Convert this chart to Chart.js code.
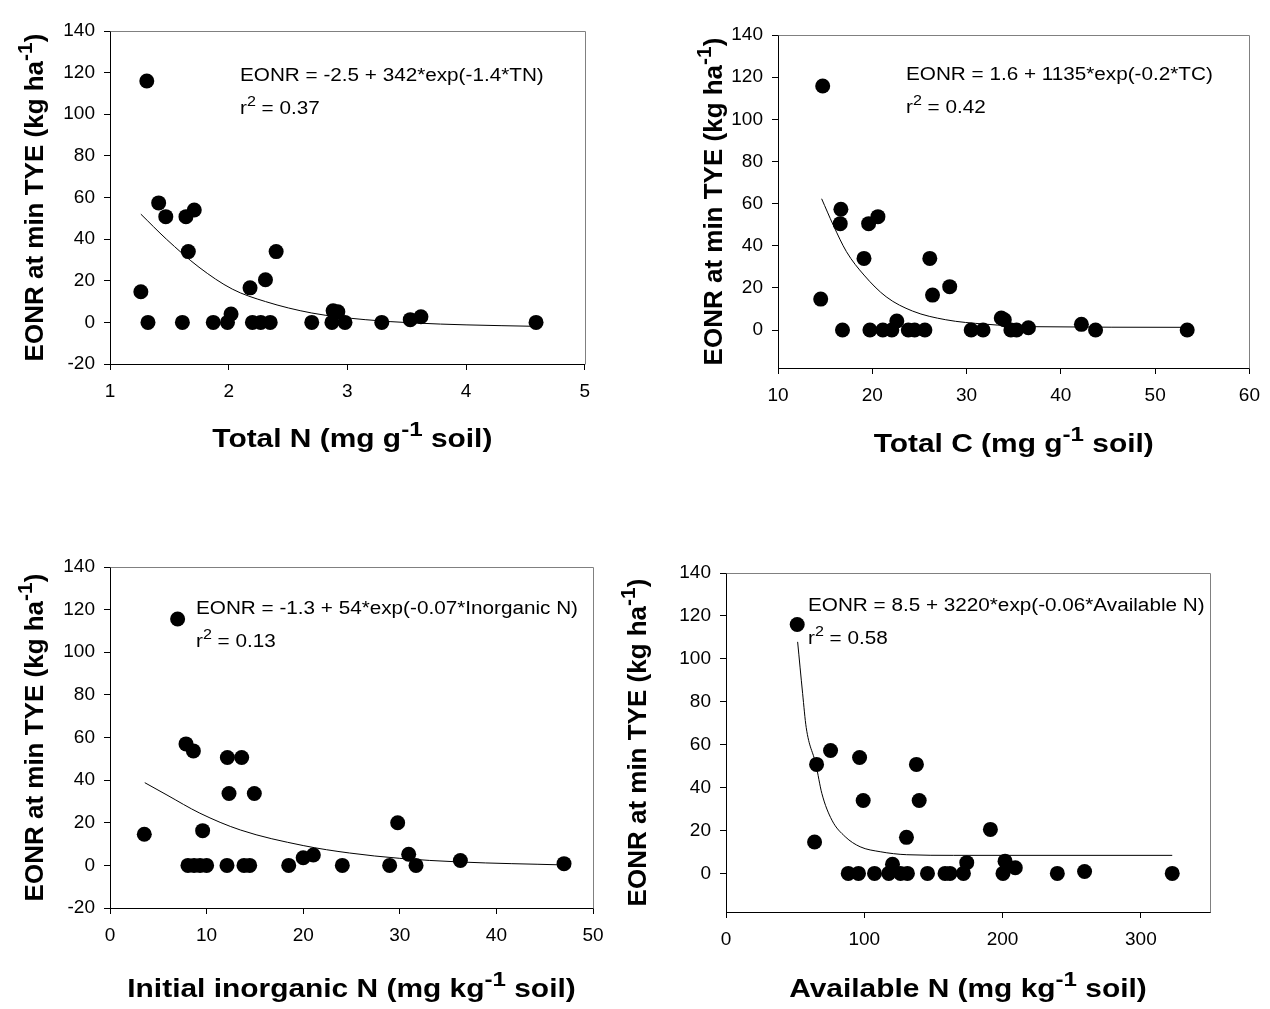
<!DOCTYPE html>
<html>
<head>
<meta charset="utf-8">
<script src="https://cdn.jsdelivr.net/npm/chart.js@4.4.1/dist/chart.umd.min.js"></script>
<style>
  body { margin: 0; background: #fff; }
  .panel { position: absolute; }
</style>
</head>
<body>
<div class="panel" style="left:0;top:0"><canvas id="tn" width="600" height="480"></canvas></div>
<div class="panel" style="left:600px;top:0"><canvas id="tc" width="670" height="480"></canvas></div>
<div class="panel" style="left:0;top:505px"><canvas id="inorg" width="635" height="504"></canvas></div>
<div class="panel" style="left:600px;top:505px"><canvas id="avail" width="670" height="504"></canvas></div>
<script>
const FONT = "'Liberation Sans', Arial, Helvetica, sans-serif";

// y axis (EONR at min TYE), shared by all panels
const eonrTicks = [-20, 0, 20, 40, 60, 80, 100, 120, 140];
const eonrTicksPos = [0, 20, 40, 60, 80, 100, 120, 140];
const yTitle = ['EONR at min TYE (kg ha', ['-1'], ')'];

// Total N
const tnX = [1.31, 1.26, 1.32, 1.41, 1.47, 1.61, 1.64, 1.71, 1.66, 1.87, 1.99, 2.02, 2.18, 2.20, 2.27, 2.31, 2.35, 2.40, 2.70, 2.87, 2.88, 2.92, 2.98, 3.29, 3.53, 3.62, 4.59];
const tnY = [116, 14.7, 0, 57.4, 50.8, 0, 50.8, 54, 34, 0, 0, 4, 16.6, 0, 0, 20.5, 0, 34, 0, 0, 5.6, 5.1, 0, 0, 1.3, 2.7, 0];
const tnFitX = [1.26, 1.475, 1.75, 2.03, 2.31, 2.70, 3.15, 3.57, 4.0, 4.59];
const tnFitY = [52, 40, 26.5, 16, 10, 4.5, 1.3, -0.3, -1.2, -1.9];
const tnTicks = [1, 2, 3, 4, 5];

// Total C
const tcX = [14.74, 14.53, 16.67, 16.60, 16.84, 19.12, 19.61, 19.75, 20.6, 21.12, 22.07, 22.6, 23.82, 24.49, 25.58, 26.1, 26.39, 28.21, 30.49, 31.75, 33.68, 34.0, 34.7, 35.3, 36.56, 42.18, 43.68, 53.4];
const tcY = [115.8, 14.7, 57.3, 50.5, 0, 34, 50.5, 0, 53.8, 0, 0, 4.3, 0, 0, 0, 34, 16.6, 20.6, 0, 0, 5.7, 4.9, 0, 0, 1.1, 2.7, 0, 0];
const tcFitX = [14.63, 15.86, 17.26, 19.12, 21.47, 24.28, 27.79, 32.0, 37.26, 53.4];
const tcFitY = [62.3, 49.8, 37.2, 26.1, 15.8, 9.0, 4.9, 2.8, 1.6, 1.3];
const tcTicks = [10, 20, 30, 40, 50, 60];

// Initial inorganic N
const inX = [7.0, 3.55, 7.87, 8.63, 8.07, 8.7, 9.32, 10.0, 9.59, 12.15, 13.63, 12.32, 14.94, 12.11, 13.87, 14.46, 18.5, 20.0, 21.05, 24.05, 28.95, 29.78, 30.92, 31.68, 36.27, 47.0];
const inY = [115.6, 14.6, 57, 53.7, 0, 0, 0, 0, 16.3, 50.6, 50.6, 33.7, 33.7, 0, 0, 0, 0, 3.6, 4.9, 0, 0, 20, 5.2, 0, 2.3, 0.8];
const inFitX = [3.6, 5.9, 9.3, 13.5, 20, 24.8, 30, 36.2, 47];
const inFitY = [38.8, 33, 24.5, 16.6, 9.3, 5.8, 3.3, 1.6, 0.2];
const inTicks = [0, 10, 20, 30, 40, 50];

// Available N
const avX = [51.5, 64.05, 65.5, 75.6, 96.6, 99.2, 137.7, 139.7, 130.5, 191.2, 88.4, 95.8, 107.4, 117.7, 120.4, 126.2, 131.2, 145.7, 158.4, 162, 171.7, 174.1, 200.3, 201.8, 209.2, 239.6, 259.3, 322.7];
const avY = [116, 14.6, 50.8, 57.3, 54, 34, 50.8, 34, 16.8, 20.5, 0, 0, 0, 0, 4.2, 0, 0, 0, 0, 0, 0, 5, 0, 5.7, 2.6, 0, 0.9, 0];
const avFitX = [51.8, 55.4, 58, 65.0, 69.3, 76.6, 86.2, 97.0, 111.5, 130.7, 164.5, 322.7];
const avFitY = [107.9, 83.9, 68, 50.8, 37.3, 24.8, 17.1, 12.4, 10.1, 8.7, 8.4, 8.4];
const avTicks = [0, 100, 200, 300];

function pts(xs, ys) {
  return xs.map((x, i) => ({ x: x, y: ys[i] }));
}

// text with superscripts: plain strings, or one-element arrays for superscripts.
// the original figure is a bit stretched sideways, hence the hs factor
function drawRich(ctx, parts, x, y, weight, size, align, hs, rotated) {
  const main = weight + ' ' + size + 'px ' + FONT;
  const sup = weight + ' ' + Math.round(size * 0.8) + 'px ' + FONT;
  let total = 0;
  parts.forEach(p => {
    ctx.font = Array.isArray(p) ? sup : main;
    total += ctx.measureText(Array.isArray(p) ? p[0] : p).width;
  });
  ctx.save();
  ctx.translate(x, y);
  if (rotated) {
    ctx.rotate(-Math.PI / 2);
    ctx.scale(1, hs);
  } else {
    ctx.scale(hs, 1);
  }
  let cx = align === 'center' ? -total / 2 : 0;
  ctx.textAlign = 'left';
  ctx.textBaseline = 'alphabetic';
  parts.forEach(p => {
    if (Array.isArray(p)) {
      ctx.font = sup;
      ctx.fillText(p[0], cx, -size * 0.42);
      cx += ctx.measureText(p[0]).width;
    } else {
      ctx.font = main;
      ctx.fillText(p, cx, 0);
      cx += ctx.measureText(p).width;
    }
  });
  ctx.restore();
}

const panelText = {
  id: 'panelText',
  afterDraw(chart, args, o) {
    const ctx = chart.ctx, a = chart.chartArea;
    ctx.save();
    // gray frame on top and right
    ctx.strokeStyle = '#808080';
    ctx.lineWidth = 1;
    ctx.beginPath();
    ctx.moveTo(Math.round(a.left) + 0.5, Math.round(a.top) + 0.5);
    ctx.lineTo(Math.round(a.right) + 0.5, Math.round(a.top) + 0.5);
    ctx.lineTo(Math.round(a.right) + 0.5, Math.round(a.bottom) + 0.5);
    ctx.stroke();

    ctx.fillStyle = '#000';
    drawRich(ctx, o.xTitle, (a.left + a.right) / 2 + o.xTitleDx, a.bottom + o.xTitleDy, 'bold', 26, 'center', 1.15, false);
    drawRich(ctx, yTitle, o.yTitleX, (a.top + a.bottom) / 2, 'bold', 26, 'center', 1.0, true);
    drawRich(ctx, [o.eq], a.left + o.eqDx, a.top + o.eqDy, 'normal', 18, 'left', 1.15, false);
    drawRich(ctx, ['r', ['2'], ' = ' + o.r2], a.left + o.eqDx, a.top + o.eqDy + 33, 'normal', 18, 'left', 1.15, false);
    ctx.restore();
  }
};

function makePanel(id, c) {
  const axisCommon = {
    type: 'linear',
    grid: { drawOnChartArea: false, drawTicks: true, tickLength: 6, color: '#000' },
    border: { display: true, color: '#000', width: 1 },
  };
  new Chart(document.getElementById(id), {
    type: 'scatter',
    data: {
      datasets: [
        {
          data: pts(c.fitX, c.fitY),
          showLine: true,
          cubicInterpolationMode: 'monotone',
          borderColor: '#000',
          borderWidth: 1,
          pointRadius: 0,
          fill: false,
        },
        {
          data: pts(c.x, c.y),
          pointRadius: 7.5,
          pointBackgroundColor: '#000',
          pointBorderWidth: 0,
        },
      ],
    },
    options: {
      responsive: false,
      devicePixelRatio: 1,
      animation: false,
      layout: { padding: { top: c.padTop, right: c.padRight, left: 0, bottom: 0 } },
      plugins: { legend: { display: false }, tooltip: { enabled: false }, panelText: c.text },
      scales: {
        x: Object.assign({}, axisCommon, {
          min: c.xMin,
          max: c.xMax,
          afterBuildTicks: s => { s.ticks = c.xTicks.map(v => ({ value: v })); },
          afterFit: s => { s.height = c.xAxisH; },
          ticks: { color: '#000', font: { family: FONT, size: 19 }, padding: 10, maxRotation: 0, autoSkip: false },
        }),
        y: Object.assign({}, axisCommon, {
          min: c.yMin,
          max: 140,
          afterBuildTicks: s => { s.ticks = c.yTicks.map(v => ({ value: v })); },
          afterFit: s => { s.width = c.yAxisW; },
          ticks: { color: '#000', font: { family: FONT, size: 19 }, padding: 9 },
        }),
      },
    },
    plugins: [panelText],
  });
}

makePanel('tn', {
  x: tnX, y: tnY, fitX: tnFitX, fitY: tnFitY,
  xMin: 1, xMax: 5, xTicks: tnTicks, yMin: -20, yTicks: eonrTicks,
  padTop: 31, padRight: 13, xAxisH: 116, yAxisW: 110,
  text: { xTitle: ['Total N (mg g', ['-1'], ' soil)'], xTitleDx: 5, xTitleDy: 83, yTitleX: 43,
          eq: 'EONR = -2.5 + 342*exp(-1.4*TN)', r2: '0.37', eqDx: 130, eqDy: 50 },
});

makePanel('tc', {
  x: tcX, y: tcY, fitX: tcFitX, fitY: tcFitY,
  xMin: 10, xMax: 60, xTicks: tcTicks, yMin: -18, yTicks: eonrTicksPos,
  padTop: 35, padRight: 15, xAxisH: 112, yAxisW: 178,
  text: { xTitle: ['Total C (mg g', ['-1'], ' soil)'], xTitleDx: 0, xTitleDy: 84, yTitleX: 122,
          eq: 'EONR = 1.6 + 1135*exp(-0.2*TC)', r2: '0.42', eqDx: 128, eqDy: 45 },
});

makePanel('inorg', {
  x: inX, y: inY, fitX: inFitX, fitY: inFitY,
  xMin: 0, xMax: 50, xTicks: inTicks, yMin: -20, yTicks: eonrTicks,
  padTop: 62, padRight: 42, xAxisH: 101, yAxisW: 110,
  text: { xTitle: ['Initial inorganic N (mg kg', ['-1'], ' soil)'], xTitleDx: 0, xTitleDy: 89, yTitleX: 43,
          eq: 'EONR = -1.3 + 54*exp(-0.07*Inorganic N)', r2: '0.13', eqDx: 86, eqDy: 47 },
});

makePanel('avail', {
  x: avX, y: avY, fitX: avFitX, fitY: avFitY,
  xMin: 0, xMax: 350, xTicks: avTicks, yMin: -18, yTicks: eonrTicksPos,
  padTop: 68, padRight: 60, xAxisH: 97, yAxisW: 126,
  text: { xTitle: ['Available N (mg kg', ['-1'], ' soil)'], xTitleDx: 0, xTitleDy: 85, yTitleX: 46,
          eq: 'EONR = 8.5 + 3220*exp(-0.06*Available N)', r2: '0.58', eqDx: 82, eqDy: 38 },
});
</script>
</body>
</html>
